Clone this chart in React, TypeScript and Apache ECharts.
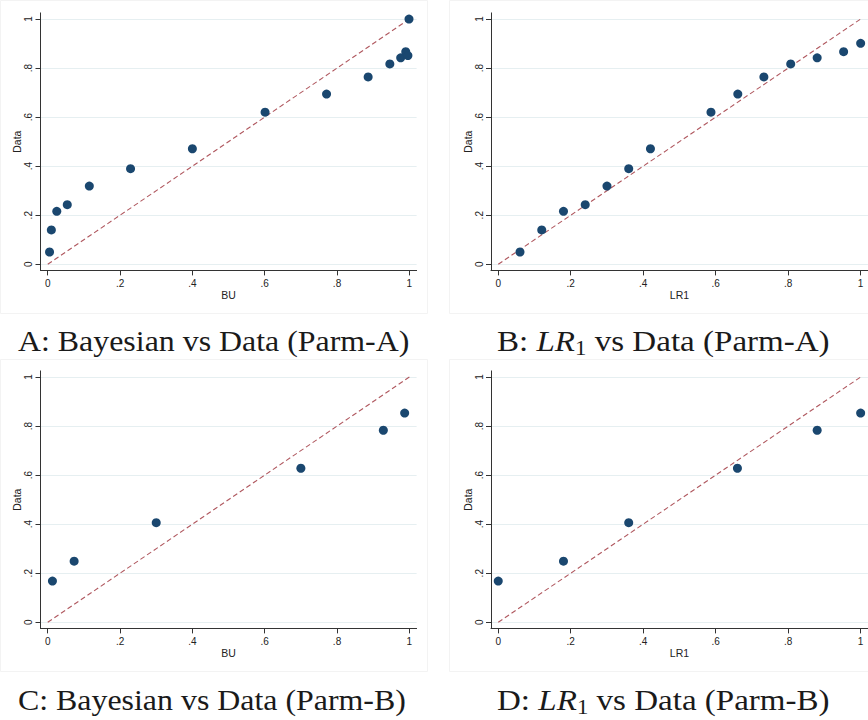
import React, { useEffect, useRef } from "react";
import * as echarts from "echarts";

// ---- data ----
const tickValues = [0, 0.2, 0.4, 0.6, 0.8, 1];
const tickLabels = ["0", ".2", ".4", ".6", ".8", "1"];

const panelA_BU = [0.005, 0.01, 0.025, 0.054, 0.115, 0.229, 0.4, 0.601, 0.771, 0.886, 0.946, 0.976, 0.99, 0.996, 0.999];
const panelA_Data = [0.05, 0.14, 0.216, 0.243, 0.319, 0.39, 0.471, 0.62, 0.694, 0.764, 0.817, 0.842, 0.867, 0.851, 1.0];

const panelB_LR1 = [0.06, 0.12, 0.18, 0.24, 0.3, 0.36, 0.42, 0.587, 0.661, 0.733, 0.807, 0.88, 0.953, 1.0];
const panelB_Data = [0.05, 0.14, 0.216, 0.243, 0.319, 0.39, 0.471, 0.62, 0.694, 0.764, 0.817, 0.842, 0.867, 0.901];

const panelC_BU = [0.013, 0.073, 0.3, 0.7, 0.928, 0.987];
const panelC_Data = [0.168, 0.249, 0.406, 0.628, 0.783, 0.853];

const panelD_LR1 = [0, 0.18, 0.36, 0.66, 0.88, 1.0];
const panelD_Data = [0.168, 0.249, 0.406, 0.628, 0.783, 0.853];

const xTitles = ["BU", "LR1", "BU", "LR1"];
const yTitle = "Data";
const diagonal = [
  [0, 0],
  [1, 1],
];
const captionTexts = [
  "A: Bayesian vs Data (Parm-A)",
  "B: {i|LR}{s|1} vs Data (Parm-A)",
  "C: Bayesian vs Data (Parm-B)",
  "D: {i|LR}{s|1} vs Data (Parm-B)",
];

const NAVY = "#1a476f";
const DIAG = "#b0585f";
const GRIDC = "#e6eff1";
const AXISC = "#333333";
const SANS = "'Liberation Sans', Arial, sans-serif";
const SERIF = "'Liberation Serif', 'Times New Roman', serif";

const zip = (xs: number[], ys: number[]) => xs.map((x, i) => [x, ys[i]]);
const fmt = (v: number) => {
  const idx = tickValues.findIndex((t) => Math.abs(t - v) < 1e-9);
  return idx >= 0 ? tickLabels[idx] : "";
};

export default function App() {
  const ref = useRef<HTMLDivElement>(null);

  useEffect(() => {
    if (!ref.current) return;
    const chart = echarts.init(ref.current, undefined, { renderer: "svg" });

    const panels = [
      { x: panelA_BU, y: panelA_Data, left: 40.5, top: 12.9, width: 376.1 },
      { x: panelB_LR1, y: panelB_Data, left: 491.0, top: 12.9, width: 376.9 },
      { x: panelC_BU, y: panelC_Data, left: 40.5, top: 370.9, width: 376.1 },
      { x: panelD_LR1, y: panelD_Data, left: 491.0, top: 370.9, width: 376.9 },
    ];

    const grid = panels.map((p) => ({
      left: p.left,
      top: p.top,
      width: p.width,
      height: 257.5,
      containLabel: false,
    }));

    const xAxis = panels.map((_, i) => ({
      type: "value",
      gridIndex: i,
      min: -0.02,
      max: 1.02,
      name: xTitles[i],
      nameLocation: "middle",
      nameGap: 18,
      nameTextStyle: { fontFamily: SANS, fontSize: 10.5, color: "#222" },
      axisLine: { show: true, onZero: false, lineStyle: { color: AXISC, width: 1 } },
      axisTick: { show: true, inside: false, length: 5, customValues: tickValues, lineStyle: { color: AXISC } },
      axisLabel: {
        customValues: tickValues,
        formatter: fmt,
        margin: 8,
        fontFamily: SANS,
        fontSize: 10,
        color: "#222",
      },
      splitLine: { show: false },
    }));

    const yAxis = panels.map((_, i) => ({
      type: "value",
      gridIndex: i,
      min: -0.025,
      max: 1.025,
      name: yTitle,
      nameLocation: "middle",
      nameGap: 18,
      nameTextStyle: { fontFamily: SANS, fontSize: 10.5, color: "#222" },
      axisLine: { show: true, onZero: false, lineStyle: { color: AXISC, width: 1 } },
      axisTick: { show: true, inside: false, length: 5, customValues: tickValues, lineStyle: { color: AXISC } },
      axisLabel: {
        customValues: tickValues,
        formatter: fmt,
        rotate: 90,
        margin: 7,
        fontFamily: SANS,
        fontSize: 10,
        color: "#222",
      },
      splitLine: { show: true, lineStyle: { color: GRIDC, width: 1 } },
    }));

    const series: any[] = [];
    panels.forEach((p, i) => {
      series.push({
        type: "line",
        xAxisIndex: i,
        yAxisIndex: i,
        data: diagonal,
        symbol: "none",
        lineStyle: { color: DIAG, width: 1.1, type: [5, 3] },
        z: 2,
      });
      series.push({
        type: "scatter",
        xAxisIndex: i,
        yAxisIndex: i,
        data: zip(p.x, p.y),
        symbol: "circle",
        symbolSize: 9,
        itemStyle: { color: NAVY, opacity: 1 },
        z: 3,
      });
    });

    const captionPos = [
      { x: 18, y: 341, sx: 1.1 },
      { x: 497, y: 341, sx: 1.14 },
      { x: 18, y: 700, sx: 1.1 },
      { x: 497, y: 700, sx: 1.14 },
    ];

    const border = { fill: "none", stroke: "#f3f3f3", lineWidth: 1 };
    const graphic: any[] = [
      { type: "rect", shape: { x: 0.5, y: 0.5, width: 427, height: 313 }, style: border, silent: true, z: -1 },
      { type: "rect", shape: { x: 449.5, y: 0.5, width: 430, height: 313 }, style: border, silent: true, z: -1 },
      { type: "rect", shape: { x: 0.5, y: 359.5, width: 427, height: 312 }, style: border, silent: true, z: -1 },
      { type: "rect", shape: { x: 449.5, y: 359.5, width: 430, height: 312 }, style: border, silent: true, z: -1 },
    ];
    captionTexts.forEach((t, i) => {
      graphic.push({
        type: "text",
        x: captionPos[i].x,
        y: captionPos[i].y,
        scaleX: captionPos[i].sx,
        silent: true,
        style: {
          text: t,
          fontFamily: SERIF,
          fontSize: 29,
          fill: "#1a1a1a",
          textAlign: "left",
          textVerticalAlign: "middle",
          lineHeight: 34,
          rich: {
            i: { fontFamily: SERIF, fontSize: 29, fontStyle: "italic", fill: "#1a1a1a", lineHeight: 34 },
            s: { fontFamily: SERIF, fontSize: 20, fill: "#1a1a1a", lineHeight: 20, verticalAlign: "bottom" },
          },
        },
      });
    });

    chart.setOption({
      animation: false,
      backgroundColor: "#ffffff",
      grid,
      xAxis,
      yAxis,
      series,
      graphic,
    });

    return () => chart.dispose();
  }, []);

  return (
    <div
      ref={ref}
      style={{ position: "absolute", left: 0, top: 0, width: 868, height: 720 }}
    />
  );
}
